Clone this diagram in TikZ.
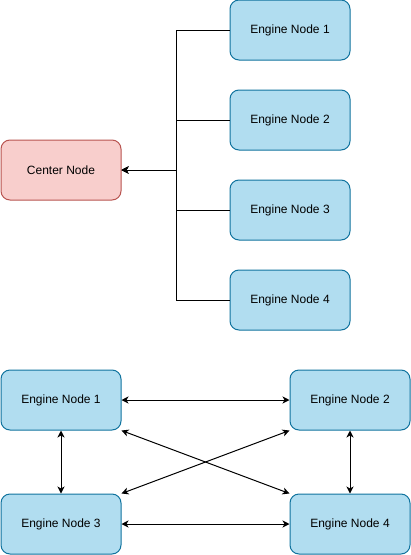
\documentclass[tikz,border=0pt]{standalone}
\usepackage{fontspec}
\setmainfont{Liberation Sans}
\usepackage{tikz}
\usetikzlibrary{arrows.meta, positioning}
\usepackage{xcolor}
\definecolor{engfill}{HTML}{B1DDF0}
\definecolor{engline}{HTML}{10739E}
\definecolor{cenfill}{HTML}{F8CECC}
\definecolor{cenline}{HTML}{B85450}

\tikzset{
	engine/.style = {inner sep = 0pt, draw = engline, fill = engfill, rounded corners = 9pt, line width = 1pt, minimum width = 120pt, minimum height = 60pt, font = \fontsize{12}{14}\selectfont},
	center/.style = {engine, draw = cenline, fill = cenfill},
	link/.style = {line width = 1pt, >={Stealth[length = 7pt, width = 7pt, inset = 2pt]}}
}

\begin{document}
\begin{tikzpicture}
	\useasboundingbox (0pt, 0pt) rectangle (411pt, -555pt);
	
	% star part
	\draw (290pt, -30pt) node[engine] (en1) {Engine Node 1}
	(290pt, -120pt) node[engine] (en2) {Engine Node 2}
	(290pt, -210pt) node[engine] (en3) {Engine Node 3}
	(290pt, -300pt) node[engine] (en4) {Engine Node 4}
	(61pt, -170pt) node[center] (cn) {Center Node};
	\coordinate (bus) at (176pt, -170pt);
	
	\draw[link, ->] (en1.west) -| (bus) -- (cn.east);
	\draw[link, ->] (en2.west) -| (bus) -- (cn.east);
	\draw[link, ->] (en3.west) -| (bus) -- (cn.east);
	\draw[link, ->] (en4.west) -| (bus) -- (cn.east);
	
	% mesh part
	\draw (61pt, -400pt) node[engine] (eb1) {Engine Node 1}
	(350pt, -400pt) node[engine] (eb2) {Engine Node 2}
	(61pt, -524pt) node[engine] (eb3) {Engine Node 3}
	(350pt, -524pt) node[engine] (eb4) {Engine Node 4};
	
	\draw[link, <->] (eb1) -- (eb2);
	\draw[link, <->] (eb3) -- (eb4);
	\draw[link, <->] (eb1) -- (eb3);
	\draw[link, <->] (eb2) -- (eb4);
	\draw[link, <->] (eb1.south east) -- (eb4.north west);
	\draw[link, <->] (eb3.north east) -- (eb2.south west);
\end{tikzpicture}
\end{document}
